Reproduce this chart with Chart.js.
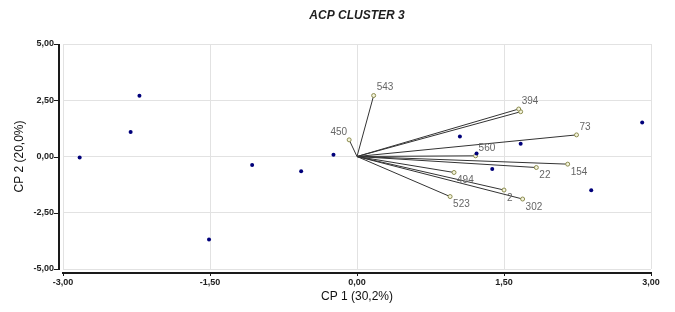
<!DOCTYPE html>
<html>
<head>
<meta charset="utf-8">
<script src="https://cdn.jsdelivr.net/npm/chart.js"></script>
<style>
  html, body { margin: 0; padding: 0; background: #fff; }
  #wrap { width: 675px; height: 312px; }
</style>
</head>
<body>
<div id="wrap"><canvas id="acpChart" width="675" height="312"></canvas></div>
<script>
// observations (cluster 3) on CP1 / CP2
const obsX = [-2.83, -2.31, -2.22, -1.51, -1.07, -0.57, -0.24, 1.05, 1.22, 1.38, 1.67, 2.39, 2.91];
const obsY = [-0.04, 1.09, 2.70, -3.69, -0.38, -0.65, 0.08, 0.89, 0.13, -0.56, 0.57, -1.50, 1.51];

// variable vectors (from origin)
const vecNames = ['543', '450', '394', '', '73', '560', '154', '22', '494', '2', '302', '523'];
const vecX = [0.17, -0.08, 1.65, 1.67, 2.24, 1.21, 2.15, 1.83, 0.99, 1.50, 1.69, 0.95];
const vecY = [2.71, 0.74, 2.11, 1.99, 0.96, 0.03, -0.34, -0.49, -0.71, -1.49, -1.89, -1.78];
const labelSide = ['above', 'left', 'above', '', 'above', 'above', 'below', 'below', 'below', 'below', 'below', 'below'];

const xTicks = [-3, -1.5, 0, 1.5, 3];
const yTicks = [-5, -2.5, 0, 2.5, 5];

const chartTitle = 'ACP CLUSTER 3';

const fmt = v => v.toFixed(2).replace('.', ',');

const datasets = [{
    label: 'obs',
    data: obsX.map((x, i) => ({ x: x, y: obsY[i] })),
    backgroundColor: '#00007a',
    borderColor: '#00007a',
    pointRadius: 2,
    pointBorderWidth: 0
}];

vecNames.forEach((name, i) => {
    datasets.push({
        label: name,
        data: [{ x: 0, y: 0 }, { x: vecX[i], y: vecY[i] }],
        showLine: true,
        borderColor: '#333',
        borderWidth: 1,
        pointRadius: [0, 2],
        pointBackgroundColor: '#f4f4dc',
        pointBorderColor: '#8c8c50',
        pointBorderWidth: 1,
        isVector: true,
        vecIndex: i
    });
});

// labels next to the vector ends
const vectorLabels = {
    id: 'vectorLabels',
    afterDatasetsDraw(chart) {
        const c = chart.ctx;
        c.save();
        c.font = '10px "Liberation Sans", Arial, sans-serif';
        c.fillStyle = '#666';
        c.textBaseline = 'middle';
        chart.data.datasets.forEach((ds, di) => {
            if (!ds.isVector || !ds.label) return;
            const pt = chart.getDatasetMeta(di).data[1];
            const side = labelSide[ds.vecIndex];
            if (side === 'left') {
                c.textAlign = 'right';
                c.fillText(ds.label, pt.x - 2, pt.y - 8);
            } else {
                c.textAlign = 'left';
                c.fillText(ds.label, pt.x + 3, side === 'above' ? pt.y - 8 : pt.y + 8);
            }
        });
        c.restore();
    }
};

// title centred over the plot area, axis lines a few pixels off the plot area
const frame = {
    id: 'frame',
    afterDraw(chart) {
        const c = chart.ctx;
        const a = chart.chartArea;
        const xs = chart.scales.x, ys = chart.scales.y;
        c.save();
        c.fillStyle = '#1e1e1e';
        c.font = 'italic bold 12px "Liberation Sans", Arial, sans-serif';
        c.textAlign = 'center';
        c.textBaseline = 'middle';
        c.fillText(chartTitle, (a.left + a.right) / 2, 16);

        c.strokeStyle = '#1a1a1a';
        c.lineWidth = 2;
        c.beginPath();
        c.moveTo(59, a.top);
        c.lineTo(59, a.bottom + 1);
        c.moveTo(a.left - 1, a.bottom + 4);
        c.lineTo(a.right + 1, a.bottom + 4);
        c.stroke();
        c.lineWidth = 1;
        c.beginPath();
        yTicks.forEach(v => {
            const py = Math.round(ys.getPixelForValue(v)) + 0.5;
            c.moveTo(54, py);
            c.lineTo(59, py);
        });
        xTicks.forEach(v => {
            const px = Math.round(xs.getPixelForValue(v)) + 0.5;
            c.moveTo(px, a.bottom + 4);
            c.lineTo(px, a.bottom + 7);
        });
        c.stroke();
        c.restore();
    }
};

const tickFont = { family: '"Liberation Sans", Arial, sans-serif', size: 9, weight: 'bold' };

new Chart(document.getElementById('acpChart').getContext('2d'), {
    type: 'scatter',
    data: { datasets: datasets },
    options: {
        responsive: false,
        animation: false,
        layout: { padding: { left: 0, right: 24, top: 44, bottom: 0 } },
        plugins: {
            legend: { display: false },
            tooltip: { enabled: false },
            title: { display: false }
        },
        scales: {
            x: {
                type: 'linear',
                min: -3, max: 3,
                afterBuildTicks: s => { s.ticks = xTicks.map(v => ({ value: v })); },
                afterFit: s => { s.height = 43; },
                grid: { color: '#e2e2e2', drawTicks: false },
                border: { display: false },
                ticks: { font: tickFont, color: '#222', padding: 8, maxRotation: 0, callback: v => fmt(v) },
                title: {
                    display: true,
                    text: 'CP 1 (30,2%)',
                    color: '#111',
                    font: { family: '"Liberation Sans", Arial, sans-serif', size: 12 },
                    padding: { top: 0, bottom: 8 }
                }
            },
            y: {
                type: 'linear',
                min: -5, max: 5,
                afterBuildTicks: s => { s.ticks = yTicks.map(v => ({ value: v })); },
                afterFit: s => { s.width = 63; },
                grid: { color: '#e2e2e2', drawTicks: false },
                border: { display: false },
                ticks: { font: tickFont, color: '#222', padding: 9, callback: v => fmt(v) },
                title: {
                    display: true,
                    text: 'CP 2 (20,0%)',
                    color: '#111',
                    font: { family: '"Liberation Sans", Arial, sans-serif', size: 12 },
                    padding: { top: 12, bottom: 0 }
                }
            }
        }
    },
    plugins: [vectorLabels, frame]
});
</script>
</body>
</html>
